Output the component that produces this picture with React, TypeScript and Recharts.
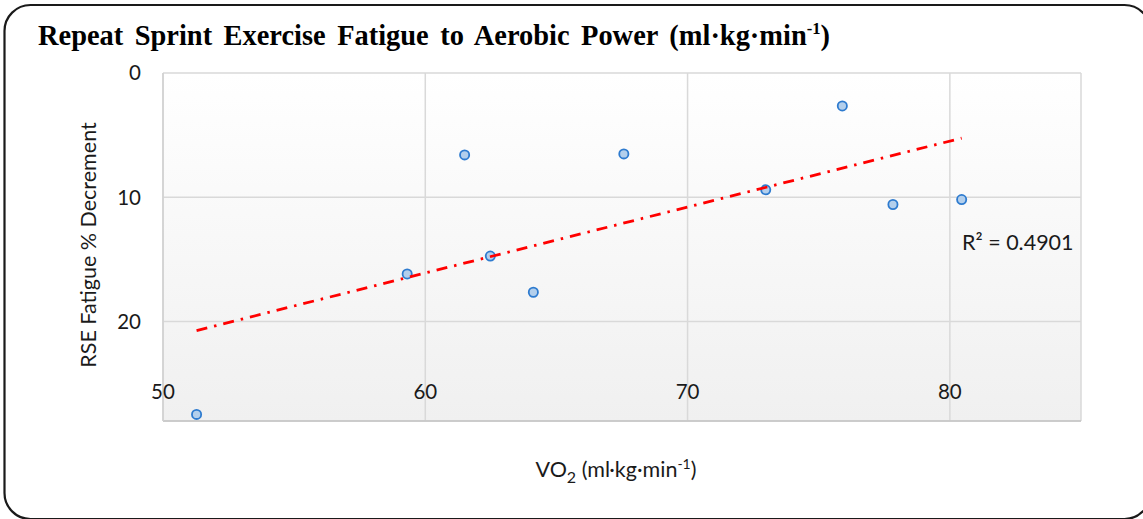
import React from 'react';
import { ScatterChart, Scatter, XAxis, YAxis, CartesianGrid } from 'recharts';

const vo2 = [51.28, 59.31, 61.5, 62.48, 64.12, 67.57, 72.98, 75.9, 77.83, 80.45];
const fatigue = [27.47, 16.17, 6.59, 14.73, 17.64, 6.51, 9.4, 2.65, 10.58, 10.18];
const trendX = [51.28, 80.45];
const trendY = [20.72, 5.24];
const xTicks = [50, 60, 70, 80];
const yTicks = [0, 10, 20];
const rSquared = 'R² = 0.4901';

const points = vo2.map((x, i) => ({ x, y: fatigue[i] }));
const trend = trendX.map((x, i) => ({ x, y: trendY[i] }));

const FONT = 'Lato, "Open Sans", sans-serif';

const XTick = (props: any) => {
  const { x, y, payload } = props;
  return (
    <text x={x} y={y - 24} textAnchor="middle" fontFamily={FONT} fontSize={20.5} fill="#1a1a1a">
      {payload.value}
    </text>
  );
};

const Dot = (props: any) => {
  const { cx, cy } = props;
  return <circle cx={cx} cy={cy} r={4.6} fill="#b3cfec" stroke="#2e7bcf" strokeWidth={1.8} />;
};

const NoShape = () => <g />;

const XLabel = () => (
  <text x={616} y={477} textAnchor="middle" fontFamily={FONT} fontSize={21.5} fill="#1a1a1a">
    VO
    <tspan dy={6} fontSize={16}>2</tspan>
    <tspan dy={-6}> (ml·kg·min</tspan>
    <tspan dy={-8} fontSize={14}>-1</tspan>
    <tspan dy={8}>)</tspan>
  </text>
);

const YLabel = () => (
  <text
    x={88}
    y={245}
    transform="rotate(-90 88 245)"
    textAnchor="middle"
    dominantBaseline="central"
    fontFamily={FONT}
    fontSize={21.5}
    fill="#1a1a1a"
  >
    RSE Fatigue % Decrement
  </text>
);

export default function App() {
  return (
    <div style={{ position: 'absolute', left: 0, top: 0, width: 1143, height: 519, background: '#fff' }}>
      <svg width={1143} height={519} style={{ position: 'absolute', left: 0, top: 0 }}>
        <defs>
          <linearGradient id="plotBg" x1="0" y1="0" x2="0" y2="1">
            <stop offset="0%" stopColor="#ffffff" />
            <stop offset="100%" stopColor="#f0f0f0" />
          </linearGradient>
        </defs>
        <rect x={4.5} y={5} width={1146} height={514} rx={26} ry={26} fill="none" stroke="#1a1a1a" strokeWidth={2.2} />
      </svg>
      <div style={{ position: 'absolute', left: 0, top: 0 }}>
        <ScatterChart width={1143} height={519} margin={{ top: 73, right: 62, bottom: 68, left: 103 }}>
          <CartesianGrid stroke="#d9d9d9" strokeWidth={1.5} fill="url(#plotBg)" fillOpacity={1} />
          <XAxis
            type="number"
            dataKey="x"
            domain={[50, 85]}
            ticks={xTicks}
            allowDataOverflow
            height={30}
            tickLine={false}
            tickSize={0}
            axisLine={{ stroke: '#c4c4c4', strokeWidth: 1.5 }}
            tick={<XTick />}
            label={<XLabel />}
          />
          <YAxis
            type="number"
            dataKey="y"
            domain={[0, 28]}
            reversed
            ticks={yTicks}
            allowDataOverflow
            width={60}
            tickLine={false}
            tickSize={0}
            tickMargin={22}
            axisLine={{ stroke: '#d0d0d0', strokeWidth: 1.5 }}
            tick={{ fontFamily: FONT, fontSize: 20.5, fill: '#1a1a1a' }}
            label={<YLabel />}
          />
          <Scatter data={points} shape={<Dot />} isAnimationActive={false} />
          <Scatter
            data={trend}
            shape={<NoShape />}
            line={{ stroke: '#ff0000', strokeWidth: 2.8, strokeDasharray: '11 7 2.5 7' }}
            isAnimationActive={false}
          />
        </ScatterChart>
      </div>
      <svg width={1143} height={519} style={{ position: 'absolute', left: 0, top: 0, pointerEvents: 'none' }}>
        <g transform="translate(38 45) scale(0.98 1)">
          <text
            x={0}
            y={0}
            fontFamily='"Liberation Serif", "Times New Roman", serif'
            fontWeight="bold"
            fontSize={29}
            wordSpacing={4.5}
            fill="#000"
          >
            Repeat Sprint Exercise Fatigue to Aerobic Power (ml·kg·min
            <tspan dy={-11} fontSize={17}>-1</tspan>
            <tspan dy={11}>)</tspan>
          </text>
        </g>
        <text x={962} y={250} fontFamily={FONT} fontSize={21.5} fill="#1a1a1a">
          {rSquared}
        </text>
      </svg>
    </div>
  );
}
